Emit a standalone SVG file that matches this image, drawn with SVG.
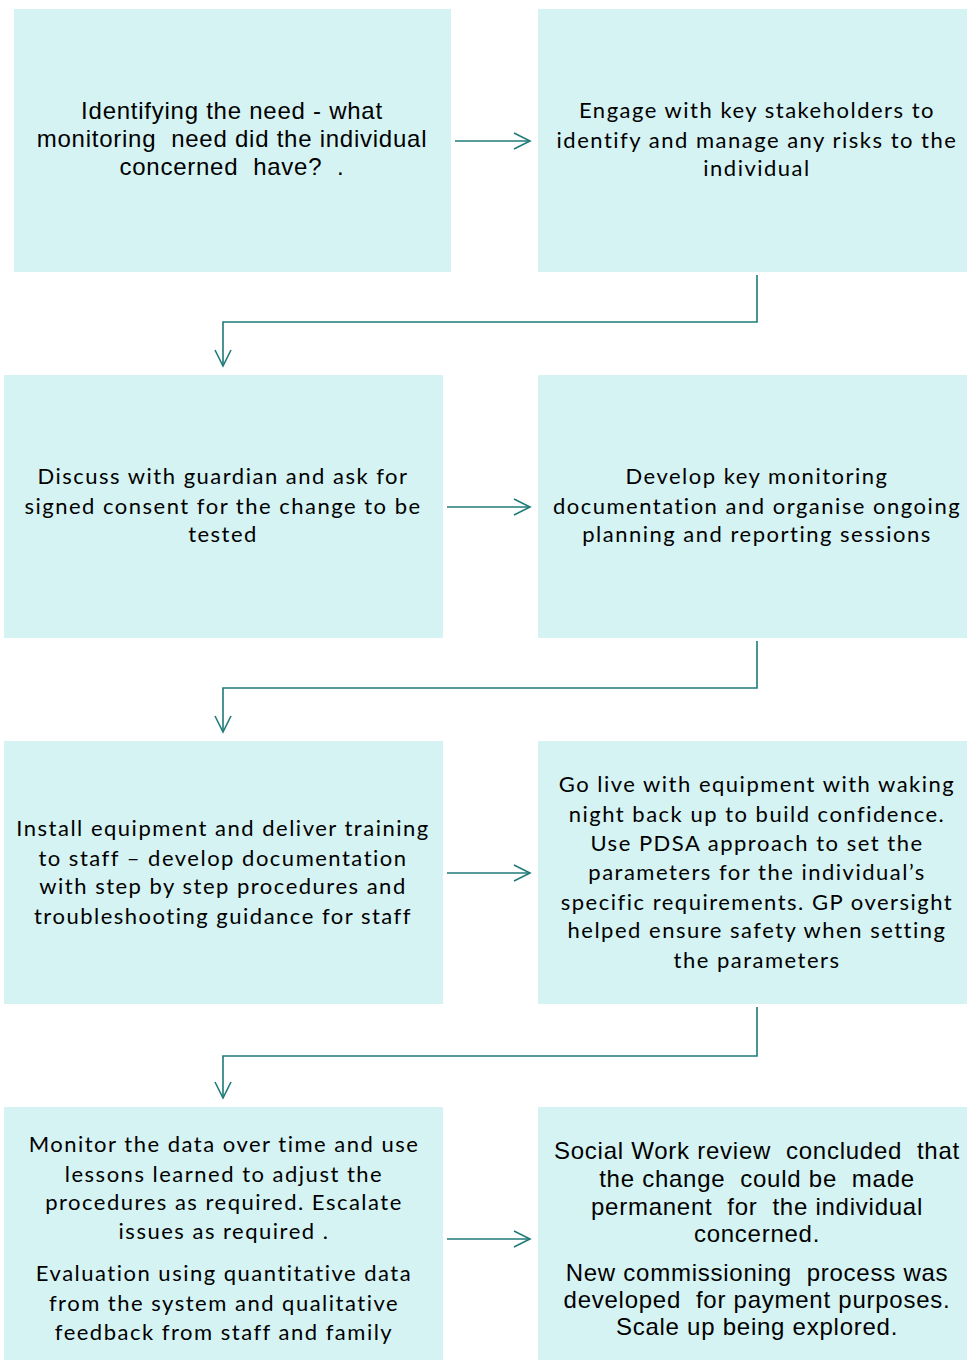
<svg xmlns="http://www.w3.org/2000/svg" width="967" height="1360" viewBox="0 0 967 1360">
<style>
.box{fill:#d5f3f3;}
.a{font-family:"Liberation Sans",Arial,sans-serif;font-size:24px;fill:#000;text-anchor:middle;letter-spacing:0.75px;}
.c{font-family:Lato,"Open Sans",sans-serif;font-size:22px;fill:#000;text-anchor:middle;letter-spacing:1.5px;}
.ln{fill:none;stroke:#1f7a78;stroke-width:1.6;}
</style>
<defs>
<marker id="ah" viewBox="0 0 20 20" refX="18" refY="10" markerWidth="20" markerHeight="20" markerUnits="userSpaceOnUse" orient="auto">
<path d="M2,2 L18,10 L2,18" fill="none" stroke="#1f7a78" stroke-width="1.6"/>
</marker>
</defs>
<g id="n1"><rect class="box" x="14" y="9" width="437" height="263"/>
<text class="a" xml:space="preserve"><tspan x="232" y="119">Identifying the need - what</tspan><tspan x="232" y="147">monitoring  need did the individual</tspan><tspan x="232" y="175">concerned  have?  .</tspan></text></g>
<g id="n2"><rect class="box" x="538" y="9" width="429" height="263"/>
<text class="c"><tspan x="757" y="118">Engage with key stakeholders to</tspan><tspan x="757" y="148">identify and manage any risks to the</tspan><tspan x="757" y="176">individual</tspan></text></g>
<g id="n3"><rect class="box" x="4" y="375" width="439" height="263"/>
<text class="c"><tspan x="223" y="484">Discuss with guardian and ask for</tspan><tspan x="223" y="514">signed consent for the change to be</tspan><tspan x="223" y="542">tested</tspan></text></g>
<g id="n4"><rect class="box" x="538" y="375" width="429" height="263"/>
<text class="c"><tspan x="757" y="484">Develop key monitoring</tspan><tspan x="757" y="514">documentation and organise ongoing</tspan><tspan x="757" y="542">planning and reporting sessions</tspan></text></g>
<g id="n5"><rect class="box" x="4" y="741" width="439" height="263"/>
<text class="c"><tspan x="223" y="836">Install equipment and deliver training</tspan><tspan x="223" y="866">to staff – develop documentation</tspan><tspan x="223" y="894">with step by step procedures and</tspan><tspan x="223" y="924">troubleshooting guidance for staff</tspan></text></g>
<g id="n6"><rect class="box" x="538" y="741" width="429" height="263"/>
<text class="c"><tspan x="757" y="792">Go live with equipment with waking</tspan><tspan x="757" y="822">night back up to build confidence.</tspan><tspan x="757" y="851">Use PDSA approach to set the</tspan><tspan x="757" y="880">parameters for the individual’s</tspan><tspan x="757" y="910">specific requirements. GP oversight</tspan><tspan x="757" y="938">helped ensure safety when setting</tspan><tspan x="757" y="968">the parameters</tspan></text></g>
<g id="n7"><rect class="box" x="4" y="1107" width="439" height="253"/>
<text class="c"><tspan x="224" y="1152">Monitor the data over time and use</tspan><tspan x="224" y="1182">lessons learned to adjust the</tspan><tspan x="224" y="1210">procedures as required. Escalate</tspan><tspan x="224" y="1239">issues as required .</tspan><tspan x="224" y="1281">Evaluation using quantitative data</tspan><tspan x="224" y="1311">from the system and qualitative</tspan><tspan x="224" y="1340">feedback from staff and family</tspan></text></g>
<g id="n8"><rect class="box" x="538" y="1107" width="429" height="253"/>
<text class="a" xml:space="preserve"><tspan x="757" y="1159">Social Work review  concluded  that</tspan><tspan x="757" y="1187">the change  could be  made</tspan><tspan x="757" y="1215">permanent  for  the individual</tspan><tspan x="757" y="1242">concerned.</tspan><tspan x="757" y="1281">New commissioning  process was</tspan><tspan x="757" y="1308">developed  for payment purposes.</tspan><tspan x="757" y="1335">Scale up being explored.</tspan></text></g>
<g id="connectors">
<line class="ln" x1="455" y1="141" x2="530" y2="141" marker-end="url(#ah)"/>
<line class="ln" x1="447" y1="507" x2="530" y2="507" marker-end="url(#ah)"/>
<line class="ln" x1="447" y1="873" x2="530" y2="873" marker-end="url(#ah)"/>
<line class="ln" x1="447" y1="1239" x2="530" y2="1239" marker-end="url(#ah)"/>
<polyline class="ln" points="757,275 757,322 223,322 223,366" marker-end="url(#ah)"/>
<polyline class="ln" points="757,641 757,688 223,688 223,732" marker-end="url(#ah)"/>
<polyline class="ln" points="757,1007 757,1056 223,1056 223,1098" marker-end="url(#ah)"/>
</g>
</svg>
